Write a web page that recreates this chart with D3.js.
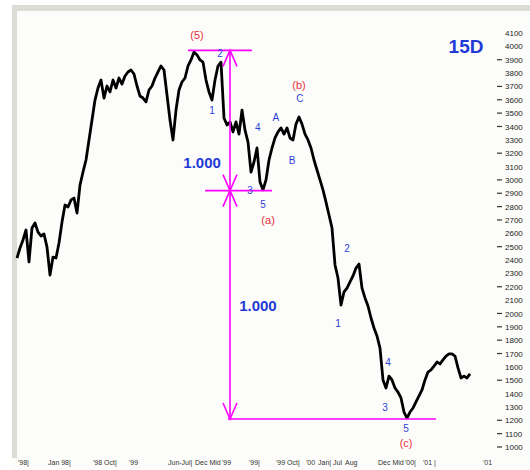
<!DOCTYPE html>
<html>
<head>
<meta charset="utf-8">
<script src="https://cdn.jsdelivr.net/npm/d3@7"></script>
<style>
  html, body { margin: 0; padding: 0; background: #ffffff; }
  svg { display: block; }
</style>
</head>
<body>
<svg id="chart" width="530" height="470"></svg>
<script>
// ---- data ----
const prices = [
  2415, 2490, 2550, 2625, 2386, 2640, 2677, 2609, 2580, 2595,
  2497, 2288, 2422, 2415, 2527, 2684, 2812, 2797, 2850, 2864,
  2752, 2961, 3059, 3149, 3299, 3448, 3598, 3688, 3748, 3613,
  3703, 3659, 3748, 3688, 3763, 3718, 3778, 3808, 3823, 3793,
  3703, 3628, 3613, 3584, 3673, 3703, 3763, 3808, 3853, 3823,
  3636, 3448, 3299, 3523, 3673, 3733, 3763, 3853, 3898, 3957,
  3936, 3898, 3882, 3748, 3659, 3598, 3748, 3853, 3882, 3464,
  3411, 3434, 3359, 3434, 3343, 3523, 3373, 3284, 3059, 3134,
  3239, 2984, 2925, 3000, 3149, 3239, 3314, 3359, 3389, 3343,
  3389, 3314, 3299, 3418, 3471, 3418, 3343, 3299, 3239, 3149,
  3074, 3000, 2925, 2834, 2737, 2640, 2363, 2265, 2063, 2161,
  2190, 2236, 2281, 2340, 2370, 2190, 2116, 2056, 1966, 1891,
  1831, 1741, 1502, 1442, 1531, 1502, 1442, 1411, 1367, 1262,
  1217, 1262, 1292, 1337, 1382, 1427, 1502, 1561, 1577, 1606,
  1636, 1622, 1652, 1681, 1697, 1697, 1681, 1592, 1517, 1531,
  1517, 1547
];
const yTicks = d3.range(1000, 4101, 100);
const yTicksWithDash = [1000, 1100, 1200, 1500, 1700, 1800, 1900, 2000, 2200, 2500,
  2700, 2800, 2900, 3000, 3200, 3400, 3500, 3600, 3700, 3900];
const xTickLabels = ["'98|", "Jan 98|", "'98 Oct|", "'99", "Jun-Jul|", "Dec Mid", "'99",
  "'99|", "'99 Oct|", "'00", "Jan|", "Jul", "Aug", "Dec Mid", "'00|", "'01 |", "'01"];
const xTickIndex = [0, 10, 25, 37, 50, 59, 68, 77, 86, 96, 100, 105, 109, 120, 129, 135, 155];

// projection levels (price) and spans (index)
const levelTop = 3970, levelMid = 2920, levelLow = 1210;
const spanTop = [57, 78.3], spanMid = [62.7, 85], spanLow = [70.3, 139.7];
const arrowIndex = 71;

const waveLabels = [
  { t: "(5)", i: 60, v: 4085, c: "red" },
  { t: "2", i: 67.7, v: 3950, c: "blue" },
  { t: "1", i: 65, v: 3523, c: "blue" },
  { t: "4", i: 80.3, v: 3396, c: "blue" },
  { t: "A", i: 86.3, v: 3464, c: "blue" },
  { t: "C", i: 94.3, v: 3606, c: "blue" },
  { t: "(b)", i: 94, v: 3710, c: "red" },
  { t: "B", i: 91.7, v: 3142, c: "blue" },
  { t: "3", i: 77.7, v: 2924, c: "blue" },
  { t: "5", i: 82, v: 2819, c: "blue" },
  { t: "(a)", i: 83.7, v: 2700, c: "red" },
  { t: "2", i: 110, v: 2490, c: "blue" },
  { t: "1", i: 107, v: 1928, c: "blue" },
  { t: "4", i: 123.7, v: 1636, c: "blue" },
  { t: "3", i: 122.7, v: 1299, c: "blue" },
  { t: "5", i: 129.7, v: 1142, c: "blue" },
  { t: "(c)", i: 129.7, v: 1030, c: "red" }
];
const ratioLabels = [
  { t: "1.000", i: 61.7, v: 3127 },
  { t: "1.000", i: 80.3, v: 2063 }
];

// ---- drawing ----
const svg = d3.select("#chart");
const W = 530, H = 470;

svg.append("rect").attr("x", 0).attr("y", 0).attr("width", W).attr("height", H).attr("fill", "#ffffff");
svg.append("rect").attr("x", 12).attr("y", 5).attr("width", W - 12).attr("height", H - 5).attr("fill", "#fcfdfa");
svg.append("rect").attr("x", 12).attr("y", 5).attr("width", W - 12).attr("height", 6).attr("fill", "#dcdcd4");
svg.append("rect").attr("x", 12).attr("y", 5).attr("width", 5).attr("height", 453).attr("fill", "#dcdcd4");

const x = d3.scaleLinear().domain([0, prices.length - 1]).range([17, 470]);
const y = d3.scaleLinear().domain([1000, 4100]).range([447, 33]);

// right axis
const yAxis = d3.axisRight(y).tickValues(yTicks).tickSize(0).tickPadding(0).tickFormat(d3.format("d"));
const gy = svg.append("g").attr("transform", "translate(505,0)").call(yAxis);
gy.select(".domain").remove();
gy.selectAll("text").attr("font-family", "Liberation Sans Narrow, Liberation Sans, Arial, sans-serif")
  .attr("font-size", 8).attr("fill", "#222").attr("x", 0);
svg.append("g").selectAll("line").data(yTicksWithDash).join("line")
  .attr("x1", 497).attr("x2", 502)
  .attr("y1", d => y(d)).attr("y2", d => y(d))
  .attr("stroke", "#333").attr("stroke-width", 1.2);

// bottom labels
svg.append("g").selectAll("text").data(xTickLabels).join("text")
  .attr("x", (d, k) => x(xTickIndex[k]) + 1)
  .attr("y", 465)
  .attr("font-family", "Liberation Sans Narrow, Liberation Sans, Arial, sans-serif")
  .attr("font-size", 7).attr("fill", "#333")
  .text(d => d);

// price line
const line = d3.line().x((d, i) => x(i)).y(d => y(d));
svg.append("path").datum(prices)
  .attr("d", line)
  .attr("fill", "none").attr("stroke", "#000").attr("stroke-width", 2.8)
  .attr("stroke-linejoin", "round");

// magenta projections
const mag = "#ff00ff";
const g = svg.append("g").attr("stroke", mag).attr("stroke-width", 1.6).attr("fill", "none");
[[spanTop, levelTop], [spanMid, levelMid], [spanLow, levelLow]].forEach(([s, v]) => {
  g.append("line").attr("x1", x(s[0])).attr("x2", x(s[1])).attr("y1", y(v)).attr("y2", y(v));
});
const ax = x(arrowIndex);
g.append("line").attr("x1", ax).attr("x2", ax).attr("y1", y(levelTop)).attr("y2", y(levelLow));
function chevron(cy, dir) {
  g.append("polyline").attr("points",
    [[ax - 7, cy + dir * 16], [ax, cy], [ax + 7, cy + dir * 16]].map(p => p.join(",")).join(" "));
}
chevron(y(levelTop), 1);
chevron(y(levelMid), -1);
chevron(y(levelMid), 1);
chevron(y(levelLow), -1);

// wave labels
svg.append("g").selectAll("text").data(waveLabels).join("text")
  .attr("x", d => x(d.i)).attr("y", d => y(d.v))
  .attr("text-anchor", "middle").attr("dominant-baseline", "central")
  .attr("font-family", "Liberation Sans, Arial, sans-serif")
  .attr("font-size", d => d.c === "red" ? 11 : 10)
  .attr("fill", d => d.c === "red" ? "#e8303a" : "#2b3fd6")
  .text(d => d.t);

// ratio labels
svg.append("g").selectAll("text").data(ratioLabels).join("text")
  .attr("x", d => x(d.i)).attr("y", d => y(d.v))
  .attr("text-anchor", "middle").attr("dominant-baseline", "central")
  .attr("font-family", "Liberation Sans, Arial, sans-serif")
  .attr("font-size", 15).attr("font-weight", "bold").attr("fill", "#1f3ad6")
  .text(d => d.t);

// title
svg.append("text").attr("x", 466).attr("y", 46)
  .attr("text-anchor", "middle").attr("dominant-baseline", "central")
  .attr("font-family", "Liberation Sans, Arial, sans-serif")
  .attr("font-size", 19).attr("font-weight", "bold").attr("fill", "#1f3ad6")
  .text("15D");
</script>
</body>
</html>
